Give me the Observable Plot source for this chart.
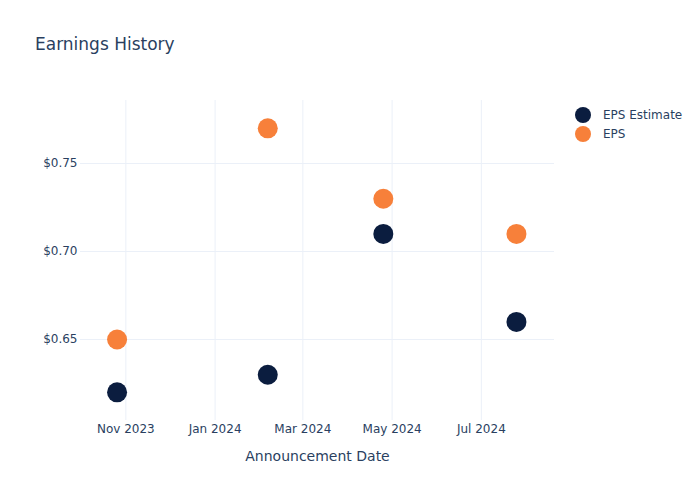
<!DOCTYPE html>
<html>
<head>
<meta charset="utf-8">
<script src="https://cdn.jsdelivr.net/npm/d3@7"></script>
<script src="https://cdn.jsdelivr.net/npm/@observablehq/plot@0.6"></script>
<style>
  html, body { margin: 0; padding: 0; background: #fff; }
  #wrap { position: relative; width: 700px; height: 500px; font-family: "DejaVu Sans", sans-serif; color: #2a3f5f; }
  #title { position: absolute; left: 35px; top: 34px; font-size: 17px; color: #2a3f5f; }
  #legend { position: absolute; left: 575px; top: 105px; font-size: 12px; color: #2a3f5f; }
  .li { display: flex; align-items: center; height: 19px; }
  .sw { width: 16px; height: 16px; border-radius: 50%; margin-right: 12px; }
</style>
</head>
<body>
<div id="wrap">
  <div id="chart"></div>
  <div id="title">Earnings History</div>
  <div id="legend"></div>
</div>
<script>
const dates = ["2023-10-26", "2024-02-06", "2024-04-25", "2024-07-25"];
const epsEstimate = [0.62, 0.63, 0.71, 0.66];
const eps = [0.65, 0.77, 0.73, 0.71];
const seriesNames = ["EPS Estimate", "EPS"];
const seriesColors = ["#0b1d3f", "#f7803a"];
const xTicks = ["2023-11-01", "2024-01-01", "2024-03-01", "2024-05-01", "2024-07-01"];
const yTicks = [0.65, 0.70, 0.75];

const parse = d3.utcParse("%Y-%m-%d");
const rows = [];
dates.forEach((d, i) => {
  rows.push({date: parse(d), value: epsEstimate[i], series: seriesNames[0]});
  rows.push({date: parse(d), value: eps[i], series: seriesNames[1]});
});
const xt = xTicks.map(parse);

const chart = Plot.plot({
  width: 700,
  height: 500,
  marginLeft: 80,
  marginRight: 146,
  marginTop: 100,
  marginBottom: 80,
  style: {fontFamily: "DejaVu Sans, sans-serif", fontSize: "12px", color: "#2a3f5f", background: "#fff"},
  x: {type: "utc", domain: [parse("2023-10-01"), parse("2024-08-20")]},
  y: {domain: [0.604, 0.7858]},
  color: {domain: seriesNames, range: seriesColors},
  marks: [
    Plot.gridX(xt, {stroke: "#EBF0F8", strokeOpacity: 1}),
    Plot.gridY(yTicks, {stroke: "#EBF0F8", strokeOpacity: 1}),
    Plot.axisX(xt, {tickSize: 0, tickPadding: 4, tickFormat: d3.utcFormat("%b %Y"), fill: "#2a3f5f", fontSize: 12,
      label: "Announcement Date", labelAnchor: "center", labelArrow: "none", labelOffset: 40}),
    Plot.axisY(yTicks, {tickSize: 0, tickPadding: 3, tickFormat: d => "$" + d.toFixed(2), fill: "#2a3f5f", fontSize: 12, label: null}),
    Plot.dot(rows, {x: "date", y: "value", fill: "series", r: 10, strokeWidth: 0})
  ]
});
document.getElementById("chart").appendChild(chart);
chart.querySelectorAll("g[aria-label='x-axis label'] text").forEach(t => { t.setAttribute("font-size", "14"); });

const leg = document.getElementById("legend");
seriesNames.forEach((n, i) => {
  const li = document.createElement("div");
  li.className = "li";
  li.innerHTML = `<span class="sw" style="background:${seriesColors[i]}"></span><span>${n}</span>`;
  leg.appendChild(li);
});
</script>
</body>
</html>
